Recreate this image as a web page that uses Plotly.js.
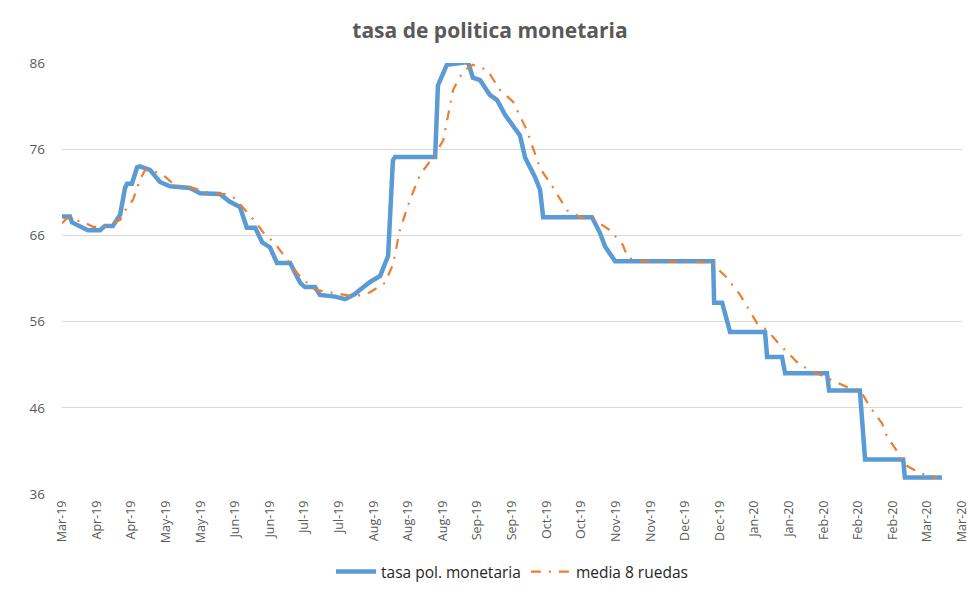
<!DOCTYPE html>
<html>
<head>
<meta charset="utf-8">
<script src="https://cdn.plot.ly/plotly-3.0.1.min.js"></script>
<style>html,body{margin:0;padding:0;background:#fff;}#chart{width:980px;height:592px;}</style>
</head>
<body>
<div id="chart"></div>
<script>
// session index (trading days) and values
const tasaX = [0, 2.3, 2.9, 7.5, 11, 12.4, 14.7, 16.8, 18.2, 18.8, 20.2, 21.7, 22.5, 25.4, 28.3, 31.2, 37, 39.9, 45.6, 48.5, 51.4, 53.4, 55.8, 57.8, 60.1, 62.1, 65.9, 68.8, 70.2, 73.1, 74.5, 78.9, 81.8, 84.6, 86.1, 89, 91.9, 93.3, 94.2, 95.6, 96.2, 107.8, 108.6, 111.2, 115.8, 117.3, 118.7, 120.8, 123.6, 125.7, 128, 130.9, 132.3, 133.8, 136.6, 138.1, 139, 153.1, 155.4, 156.9, 158.9, 159.8, 188.1, 188.4, 190.7, 193, 203.1, 203.7, 208, 208.9, 221, 221.6, 230.5, 231.4, 232, 243, 243.5, 254.2];
const tasaY = [68.2, 68.2, 67.5, 66.6, 66.6, 67.1, 67.1, 68.4, 71.5, 72, 72, 73.9, 74, 73.6, 72.2, 71.7, 71.5, 70.9, 70.8, 69.9, 69.3, 66.9, 66.9, 65.2, 64.6, 62.8, 62.8, 60.5, 60, 60, 59.1, 58.9, 58.6, 59.2, 59.7, 60.6, 61.3, 62.6, 63.6, 74.7, 75.1, 75.1, 83.4, 85.8, 86.1, 86.1, 84.3, 84.0, 82.3, 81.7, 80, 78.5, 77.6, 75, 72.8, 71.3, 68.1, 68.1, 66.3, 64.7, 63.4, 63, 63, 58.2, 58.2, 54.8, 54.8, 51.9, 51.9, 50, 50, 48, 48, 44, 40, 40, 37.9, 37.9];

const mediaX = [0, 1.4, 5.8, 9, 12.4, 16.8, 18.8, 20.5, 22.5, 24, 26.9, 29.8, 32.6, 37, 42.8, 47.1, 50, 52.9, 55.8, 58.6, 61.5, 64.4, 67.3, 68.8, 73.1, 77.4, 81.8, 84.6, 89, 93.3, 95.6, 97.6, 100.5, 103.4, 107.2, 110.1, 113, 115.8, 118.7, 122.8, 126.5, 130.3, 134.3, 138.1, 141.8, 145.9, 150.5, 153.4, 158.3, 162, 163.5, 167, 188.1, 189.2, 192.1, 195.9, 200.8, 203.7, 207.4, 213.1, 218.1, 222.7, 226.8, 230.5, 233.4, 236.9, 238.3, 241.5, 243.5, 247.9, 252.8];
const mediaY = [67.4, 68, 67.6, 67, 67, 67.8, 69.3, 70.1, 72.4, 73.6, 73.4, 72.8, 71.8, 71.6, 70.9, 70.8, 70.3, 68.9, 67.6, 66.1, 65.1, 63.5, 62, 61.2, 59.7, 59.4, 59.1, 58.9, 59.4, 60.5, 62.6, 66.6, 70.1, 73, 75.1, 77, 82.9, 85, 85.8, 85.2, 82.9, 81.5, 78.2, 73.8, 71.6, 68.9, 68, 67.9, 66.6, 64.9, 63.4, 63, 62.9, 62.2, 61.1, 59.1, 55.8, 55, 53.3, 51, 50, 49.2, 48.4, 48.1, 46.1, 44.2, 42.7, 40.8, 39.4, 38.4, 37.9];

const tickLabels = ['Mar-19','Apr-19','Apr-19','May-19','May-19','Jun-19','Jun-19','Jul-19','Jul-19','Aug-19','Aug-19','Aug-19','Sep-19','Sep-19','Oct-19','Oct-19','Nov-19','Nov-19','Dec-19','Dec-19','Jan-20','Jan-20','Feb-20','Feb-20','Feb-20','Mar-20','Mar-20'];
const tickStep = 10;
const tickVals = tickLabels.map((_, i) => i * tickStep);
const yTicks = [36, 46, 56, 66, 76, 86];

const font = '"Open Sans", Lato, sans-serif';

const traces = [
  {x: tasaX, y: tasaY, type: 'scatter', mode: 'lines', name: 'tasa pol. monetaria',
   line: {color: '#5B9BD5', width: 4.5}},
  {x: mediaX, y: mediaY, type: 'scatter', mode: 'lines', name: 'media 8 ruedas',
   line: {color: '#ED7D31', width: 2.2, dash: '10px,8px,2px,8px'}}
];

const layout = {
  width: 980, height: 592,
  margin: {l: 62, r: 18, t: 63, b: 98, autoexpand: false},
  paper_bgcolor: '#fff', plot_bgcolor: '#fff',
  title: {text: '<b>tasa de politica monetaria</b>', x: 0.5, xanchor: 'center', y: 0.948, yanchor: 'middle',
          font: {family: font, size: 21, color: '#595959'}},
  xaxis: {range: [0, 260], tickvals: tickVals, ticktext: tickLabels, tickangle: -90, automargin: false,
          showgrid: false, zeroline: false, showline: false, ticks: '', ticklabelstandoff: 3,
          tickfont: {family: font, size: 12.5, color: '#595959'}},
  yaxis: {range: [36, 86], tickvals: yTicks, showgrid: true, gridcolor: '#D9D9D9', gridwidth: 1, automargin: false,
          zeroline: false, showline: false, ticks: '', ticklabelstandoff: 16,
          tickfont: {family: font, size: 13.5, color: '#595959'}},
  showlegend: true,
  legend: {orientation: 'h', x: 0.5, xanchor: 'center', y: -0.181, yanchor: 'middle',
           font: {family: font, size: 15.5, color: '#262626'}, itemwidth: 40, traceorder: 'normal'}
};

Plotly.newPlot('chart', traces, layout, {displayModeBar: false, staticPlot: true});
</script>
</body>
</html>
